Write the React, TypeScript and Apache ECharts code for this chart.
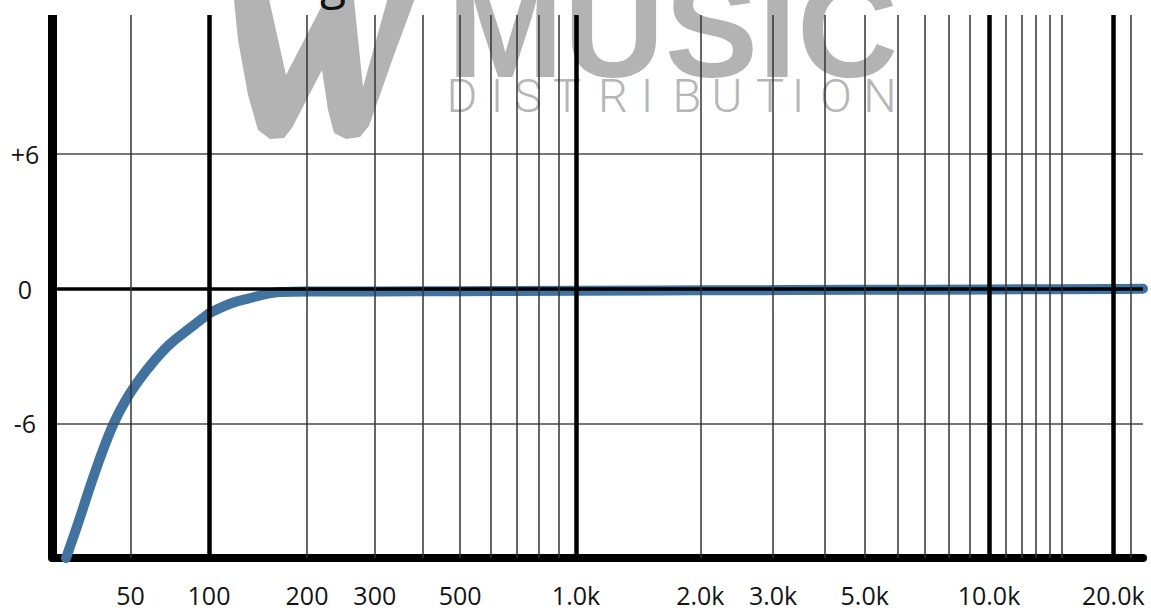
import React, { useEffect, useRef } from "react";
import * as echarts from "echarts";

// ---------------- data ----------------
const curveFreqHz = [28.3, 31.5, 35.0, 38.9, 43.2, 48.1, 54.4, 62.1, 70.9, 84.6, 100, 116, 131, 165, 200, 300, 500, 1000, 2000, 5000, 10000, 20000, 23600];
const curveGainDb = [-12, -10.44, -8.82, -7.3, -5.98, -4.94, -4.01, -3.17, -2.46, -1.75, -1.1, -0.67, -0.45, -0.15, -0.12, -0.12, -0.11, -0.09, -0.07, -0.05, -0.03, -0.01, 0];

const xTickHz = [50, 100, 200, 300, 500, 1000, 2000, 3000, 5000, 10000, 20000];
const xTickLabels = ["50", "100", "200", "300", "500", "1.0k", "2.0k", "3.0k", "5.0k", "10.0k", "20.0k"];
const yTickDb = [-6, 0, 6];
const yTickLabels = ["-6", "0", "+6"];

const edgeGridHz = [25];
const majorGridHz = [100, 1000, 10000, 20000];
const minorGridHz = [50, 200, 300, 400, 500, 600, 700, 800, 900, 2000, 3000, 4000, 5000, 6000, 7000, 8000, 9000, 11000, 12000, 13000, 14000, 15000, 22000];
const minorGridDb = [-6, 6];
const majorGridDb = [0];

// the reference's frequency scale is piecewise logarithmic: one log axis per piece
const segMinHz = [25, 100, 200, 1000];
const segMaxHz = [100, 200, 1000, 23600];
const yMinDb = -12;
const yMaxDb = 12.2;

// ---------------- layout / style ----------------
const SEG_LEFT = [52, 209, 307, 576];
const SEG_RIGHT = [209, 307, 576, 1143];
const GRID_TOP = 15;
const GRID_BOTTOM = 558;
const CURVE_COLOR = "#4272a0";
const GREY = "#b3b3b3";
const FONT = "'Open Sans', 'Noto Sans', sans-serif";

const segOf = (v: number) => {
  for (let i = 0; i < segMinHz.length; i++) {
    const last = i === segMinHz.length - 1;
    if (v >= segMinHz[i] && (v < segMaxHz[i] || (last && v <= segMaxHz[i]))) return i;
  }
  return -1;
};

const near = (a: number, b: number) => Math.abs(a - b) <= Math.abs(b) * 1e-3 + 1e-9;

function buildOption() {
  const n = segMinHz.length;
  const grid = segMinHz.map((_, i) => ({
    left: SEG_LEFT[i],
    top: GRID_TOP,
    width: SEG_RIGHT[i] - SEG_LEFT[i],
    height: GRID_BOTTOM - GRID_TOP,
    containLabel: false,
  }));

  const xAxis = segMinHz.map((mn, i) => {
    const labels = xTickHz.filter((v) => segOf(v) === i);
    return {
      type: "log",
      logBase: 10,
      gridIndex: i,
      min: mn,
      max: segMaxHz[i],
      axisLine: { show: true, onZero: false, lineStyle: { color: "#000", width: 8 } },
      axisTick: { show: false },
      splitLine: { show: false },
      minorTick: { show: false },
      minorSplitLine: { show: false },
      axisLabel: {
        show: labels.length > 0,
        customValues: labels,
        formatter: (v: number) => {
          const k = xTickHz.findIndex((t) => near(v, t));
          return k >= 0 ? xTickLabels[k] : "";
        },
        fontFamily: FONT,
        fontSize: 25,
        color: "#141414",
        margin: 24,
      },
    };
  });

  const yAxis = segMinHz.map((_, i) => ({
    type: "value",
    gridIndex: i,
    min: yMinDb,
    max: yMaxDb,
    interval: 6,
    show: i === 0,
    axisLine: { show: false },
    axisTick: { show: false },
    splitLine: { show: false },
    axisLabel: {
      show: i === 0,
      formatter: (v: number) => {
        const k = yTickDb.findIndex((t) => near(v, t));
        return k >= 0 ? yTickLabels[k] : "";
      },
      align: "center",
      margin: 27,
      fontFamily: FONT,
      fontSize: 25,
      color: "#141414",
    },
  }));

  const series: any[] = [];
  for (let i = 0; i < n; i++) {
    const ml: any[] = [];
    minorGridDb.forEach((d) => ml.push({ yAxis: d, lineStyle: { color: "#4a4a4a", width: 1.5, type: "solid" } }));
    majorGridDb.forEach((d) => ml.push({ yAxis: d, lineStyle: { color: "#000", width: 3.5, type: "solid" } }));
    minorGridHz.filter((v) => segOf(v) === i).forEach((v) =>
      ml.push({ xAxis: v, lineStyle: { color: "#333", width: 1.5, type: "solid" } })
    );
    majorGridHz.filter((v) => segOf(v) === i).forEach((v) =>
      ml.push({ xAxis: v, lineStyle: { color: "#000", width: 4.5, type: "solid" } })
    );
    edgeGridHz.filter((v) => segOf(v) === i).forEach((v) =>
      ml.push({ xAxis: v, lineStyle: { color: "#000", width: 9, type: "solid" } })
    );
    series.push({
      type: "line",
      xAxisIndex: i,
      yAxisIndex: i,
      data: [],
      z: 1,
      silent: true,
      clip: false,
      markLine: {
        silent: true,
        symbol: ["none", "none"],
        label: { show: false },
        emphasis: { disabled: true },
        animation: false,
        data: ml,
      },
    });

    const pts: number[][] = [];
    curveFreqHz.forEach((f, k) => {
      if (f >= segMinHz[i] && f <= segMaxHz[i]) pts.push([f, curveGainDb[k]]);
    });
    series.push({
      type: "line",
      xAxisIndex: i,
      yAxisIndex: i,
      data: pts,
      z: 3,
      silent: true,
      clip: false,
      showSymbol: false,
      smooth: 0.4,
      lineStyle: { color: CURVE_COLOR, width: 10, cap: "round", join: "round" },
    });
  }

  const letters = "DISTRIBUTION".split("");
  const letterX = [462, 497, 528, 567, 613, 647, 687, 727, 770, 798, 836, 880];

  const graphic = {
    elements: [
      {
        type: "polygon",
        z: 0,
        silent: true,
        shape: {
          points: [
            [233, -10], [238, 40], [248, 95], [258, 130], [270, 139], [284, 138], [292, 128],
            [322, 70], [328, 110], [334, 133], [346, 139], [360, 137], [369, 126],
            [394, 55], [410, 12], [418, -10], [390, -10], [363, 87], [353, -10],
            [330, -10], [286, 75], [267, -10],
          ],
        },
        style: { fill: GREY },
      },
      {
        type: "text",
        z: 0,
        silent: true,
        x: 447,
        y: 28,
        style: {
          text: "MUSIC",
          fill: GREY,
          font: "bold 140px 'Liberation Sans', Arial, sans-serif",
          lineHeight: 66,
          align: "left",
          verticalAlign: "middle",
          textAlign: "left",
          textVerticalAlign: "middle",
        },
      },
      ...letters.map((ch, k) => ({
        type: "text",
        z: 0,
        silent: true,
        x: letterX[k],
        y: 95,
        style: {
          text: ch,
          fill: "#b6b6b6",
          font: "300 47px Roboto, sans-serif",
          lineHeight: 34,
          align: "center",
          verticalAlign: "middle",
          textAlign: "center",
          textVerticalAlign: "middle",
        },
      })),
      {
        type: "text",
        z: 0,
        silent: true,
        x: 333,
        y: -20,
        style: {
          text: "g",
          fill: "#111",
          font: "48px 'Open Sans', sans-serif",
          align: "center",
          verticalAlign: "middle",
          textAlign: "center",
          textVerticalAlign: "middle",
        },
      },
    ],
  };

  return {
    animation: false,
    backgroundColor: "#ffffff",
    grid,
    xAxis,
    yAxis,
    series,
    graphic,
  };
}

export default function App() {
  const ref = useRef<HTMLDivElement>(null);
  useEffect(() => {
    if (!ref.current) return;
    const chart = echarts.init(ref.current, null, { renderer: "svg" });
    chart.setOption(buildOption() as any);
    return () => chart.dispose();
  }, []);
  return (
    <div
      ref={ref}
      style={{ position: "fixed", left: 0, top: 0, width: 1151, height: 610, background: "#fff" }}
    />
  );
}
